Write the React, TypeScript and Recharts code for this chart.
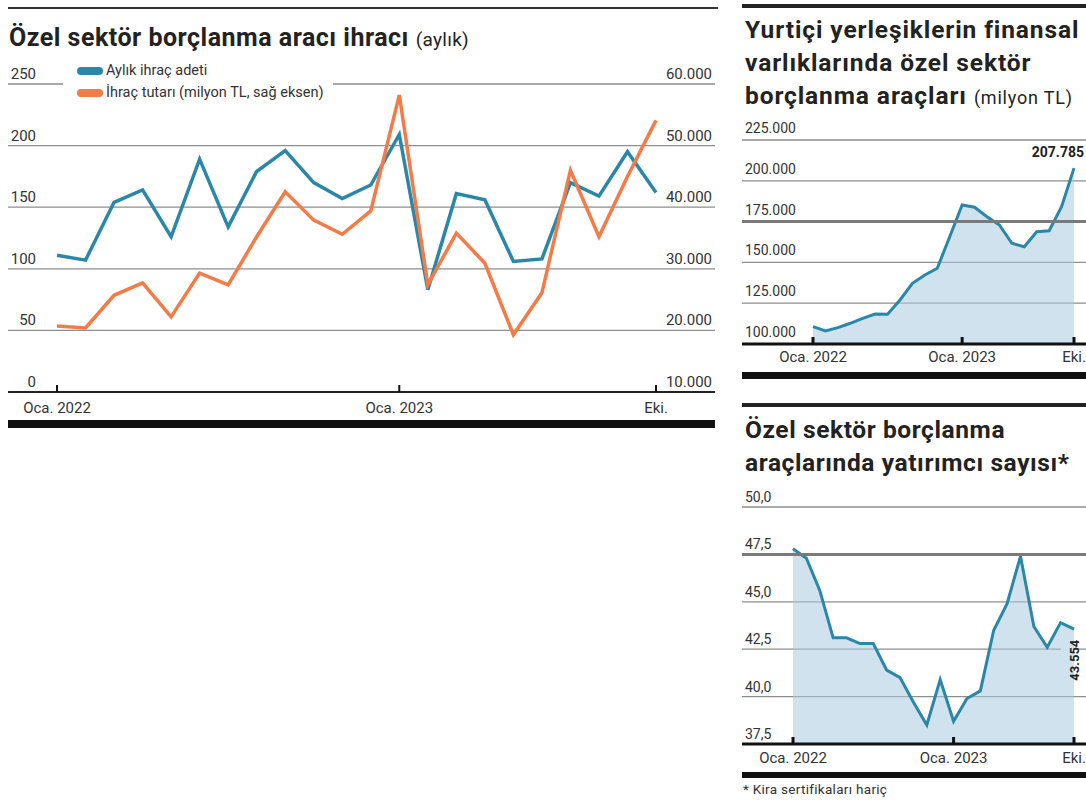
import { LineChart, Line, AreaChart, Area, XAxis, YAxis, CartesianGrid, ReferenceLine, LabelList } from 'recharts';

// Oca 2022 .. Eki 2023, monthly
const months = [
    'Oca 2022', 'Şub 2022', 'Mar 2022', 'Nis 2022', 'May 2022', 'Haz 2022', 'Tem 2022', 'Ağu 2022',
    'Eyl 2022', 'Eki 2022', 'Kas 2022', 'Ara 2022', 'Oca 2023', 'Şub 2023', 'Mar 2023', 'Nis 2023',
    'May 2023', 'Haz 2023', 'Tem 2023', 'Ağu 2023', 'Eyl 2023', 'Eki 2023',
];

const issueCount = [111, 107, 154, 164, 126, 189, 134, 179, 196, 170, 157, 168, 209, 83, 161, 156, 106, 108, 170, 159, 195, 162];
const issueAmount = [20700, 20400, 25700, 27700, 22200, 29300, 27400, 35200, 42500, 37900, 35600, 39400, 58200, 27400, 35800, 30900, 19300, 26100, 46000, 35200, 45000, 54100];
const holdings = [110600, 108000, 110000, 112700, 115700, 118400, 118200, 127000, 137200, 142300, 146400, 165700, 185200, 183800, 178000, 172900, 161700, 159600, 168800, 169400, 184100, 207785];
const investors = [47.8, 47.3, 45.6, 43.1, 43.1, 42.8, 42.8, 41.4, 41.0, 39.7, 38.5, 40.9, 38.7, 39.9, 40.3, 43.5, 44.9, 47.4, 43.7, 42.6, 43.9, 43.554];

const countTicks = [0, 50, 100, 150, 200, 250];
const amountTicks = [10000, 20000, 30000, 40000, 50000, 60000];
const holdingTicks = [100000, 125000, 150000, 175000, 200000, 225000];
const investorTicks = [37.5, 40, 42.5, 45, 47.5, 50];
const xTickMonths = ['Oca 2022', 'Oca 2023', 'Eki 2023'];
const xTickLabels = ['Oca. 2022', 'Oca. 2023', 'Eki.'];

const issueData = months.map((m, i) => ({ month: m, count: issueCount[i], amount: issueAmount[i] }));
const holdingData = months.map((m, i) => ({ month: m, value: holdings[i] }));
const investorData = months.map((m, i) => ({ month: m, value: investors[i] }));

const BLUE = '#2a87a7';
const ORANGE = '#f47b48';
const GRID = '#8e8e8e';
const FONT = 'Roboto, sans-serif';

const thousands = (v: number) => String(v).replace(/\B(?=(\d{3})+(?!\d))/g, '.');
const decimal = (v: number) => v.toFixed(1).replace('.', ',');

// labels sit just above their gridline, x fixed per chart
const yTick = (x0: number, anchor: 'start' | 'end', fmt: (v: number) => string, size: number, lift: number) => (props: any) => (
    <text x={x0} y={props.y - lift} textAnchor={anchor} fontSize={size} fill="#333" fontFamily={FONT}>
        {fmt(props.payload.value)}
    </text>
);

// only three labelled months, tick mark points up into the plot
const xTick = (len: number, width: number, dy: number, size: number) => (props: any) => {
    const i = xTickMonths.indexOf(props.payload.value);
    if (i < 0) return <g />;
    return (
        <g>
            <line x1={props.x} x2={props.x} y1={props.y - len} y2={props.y} stroke="#111" strokeWidth={width} />
            <text x={props.x} y={props.y + dy} textAnchor="middle" fontSize={size} fill="#333" fontFamily={FONT}>
                {xTickLabels[i]}
            </text>
        </g>
    );
};

const abs = (left: number, top: number, extra: any = {}) => ({ position: 'absolute' as const, left, top, ...extra });

const IssueChart = () => (
    <div style={abs(7, 60)}>
        <LineChart width={712} height={360} data={issueData} margin={{ top: 24, right: 3, left: 0, bottom: 0 }}>
            <CartesianGrid yAxisId="l" vertical={false} stroke={GRID} strokeWidth={1.3} />
            <XAxis
                dataKey="month"
                interval={0}
                tickSize={0}
                tickMargin={0}
                height={28}
                padding={{ left: 49, right: 59 }}
                axisLine={{ stroke: '#222', strokeWidth: 2 }}
                tickLine={false}
                tick={xTick(7, 2, 21, 15)}
            />
            <YAxis yAxisId="l" domain={[0, 250]} ticks={countTicks} interval={0} width={1} axisLine={false} tickLine={false} tick={yTick(29, 'end', String, 15, 5)} />
            <YAxis yAxisId="r" orientation="right" domain={[10000, 60000]} ticks={amountTicks} interval={0} width={1} axisLine={false} tickLine={false} tick={yTick(705, 'end', thousands, 15, 5)} />
            <Line yAxisId="l" dataKey="count" stroke={BLUE} strokeWidth={3.5} dot={false} isAnimationActive={false} />
            <Line yAxisId="r" dataKey="amount" stroke={ORANGE} strokeWidth={3.5} dot={false} isAnimationActive={false} />
        </LineChart>
    </div>
);

const HoldingLabel = (props: any) => {
    if (props.value !== holdings[holdings.length - 1]) return null;
    return (
        <text x={props.x + 10} y={props.y - 11} textAnchor="end" fontSize={14} fontWeight={700} fill="#222" fontFamily={FONT}>
            {thousands(props.value)}
        </text>
    );
};

const HoldingChart = () => (
    <div style={abs(741, 120)}>
        <AreaChart width={345} height={250} data={holdingData} margin={{ top: 20, right: 0, left: 0, bottom: 0 }}>
            <CartesianGrid vertical={false} stroke={GRID} strokeWidth={1.3} />
            <XAxis
                dataKey="month"
                interval={0}
                tickSize={0}
                tickMargin={0}
                height={26}
                padding={{ left: 71, right: 12 }}
                axisLine={{ stroke: '#111', strokeWidth: 3 }}
                tickLine={false}
                tick={xTick(7, 3, 18, 15)}
            />
            <YAxis domain={[100000, 225000]} ticks={holdingTicks} interval={0} width={1} axisLine={false} tickLine={false} tick={yTick(4, 'start', thousands, 14, 7)} />
            <ReferenceLine y={175000} stroke="#7a7a7a" strokeWidth={3} />
            <Area dataKey="value" stroke={BLUE} strokeWidth={3} fill="#a9cbe0" fillOpacity={0.55} isAnimationActive={false}>
                <LabelList dataKey="value" content={HoldingLabel} />
            </Area>
        </AreaChart>
    </div>
);

const InvestorLabel = (props: any) => {
    if (props.value !== investors[investors.length - 1]) return null;
    const cx = props.x;
    const cy = props.y + 31;
    return (
        <g>
            <rect x={cx - 13} y={cy - 22} width={13} height={44} fill="#d0e2ee" />
            <text transform={`translate(${cx},${cy}) rotate(-90)`} textAnchor="middle" dominantBaseline="central" fontSize={13} fontWeight={700} fill="#222" fontFamily={FONT}>
                {String(props.value)}
            </text>
        </g>
    );
};

const InvestorChart = () => (
    <div style={abs(741, 487)}>
        <AreaChart width={345} height={283} data={investorData} margin={{ top: 20, right: 0, left: 0, bottom: 0 }}>
            <CartesianGrid vertical={false} stroke={GRID} strokeWidth={1.3} />
            <XAxis
                dataKey="month"
                interval={0}
                tickSize={0}
                tickMargin={0}
                height={26}
                padding={{ left: 51, right: 12 }}
                axisLine={{ stroke: '#111', strokeWidth: 3 }}
                tickLine={false}
                tick={xTick(7, 3, 19, 15)}
            />
            <YAxis domain={[37.5, 50]} ticks={investorTicks} interval={0} width={1} axisLine={false} tickLine={false} tick={yTick(4, 'start', decimal, 14, 5)} />
            <ReferenceLine y={47.5} stroke="#7a7a7a" strokeWidth={3} />
            <Area dataKey="value" stroke={BLUE} strokeWidth={3} fill="#a9cbe0" fillOpacity={0.55} isAnimationActive={false}>
                <LabelList dataKey="value" content={InvestorLabel} />
            </Area>
        </AreaChart>
    </div>
);

const Swatch = ({ color }: { color: string }) => (
    <span style={{ display: 'inline-block', width: 26, height: 8, borderRadius: 4, background: color, marginRight: 3 }} />
);

const App = () => {
    return (
        <div style={{ position: 'absolute', left: 0, top: 0, width: 1086, height: 801, background: '#fff', fontFamily: FONT, color: '#222', overflow: 'hidden' }}>
            {/* left panel */}
            <div style={abs(8, 7, { width: 710, height: 2, background: '#333' })} />
            <div style={abs(9, 23, { fontSize: 25, fontWeight: 700, lineHeight: '30px', letterSpacing: 0.5, whiteSpace: 'nowrap' })}>
                Özel sektör borçlanma aracı ihracı <span style={{ fontSize: 19, fontWeight: 400, letterSpacing: 0.3 }}>(aylık)</span>
            </div>
            <IssueChart />
            <div style={abs(63, 60, { width: 270, height: 44, background: '#fff', fontSize: 14.5, lineHeight: '22px', color: '#333', paddingLeft: 14, boxSizing: 'border-box', whiteSpace: 'nowrap' })}>
                <div style={{ display: 'flex', alignItems: 'center' }}><Swatch color={BLUE} />Aylık ihraç adeti</div>
                <div style={{ display: 'flex', alignItems: 'center' }}><Swatch color={ORANGE} />İhraç tutarı (milyon TL, sağ eksen)</div>
            </div>
            <div style={abs(8, 420, { width: 707, height: 8, background: '#111' })} />

            {/* top right panel */}
            <div style={abs(742, 4, { width: 344, height: 4, background: '#222' })} />
            <div style={abs(745, 13, { fontSize: 24.5, fontWeight: 700, lineHeight: '33px', letterSpacing: 0.9, whiteSpace: 'nowrap' })}>
                Yurtiçi yerleşiklerin finansal<br />
                varlıklarında özel sektör<br />
                borçlanma araçları <span style={{ fontSize: 18, fontWeight: 400, letterSpacing: 0.8 }}>(milyon TL)</span>
            </div>
            <HoldingChart />
            <div style={abs(742, 372, { width: 344, height: 7, background: '#111' })} />

            {/* bottom right panel */}
            <div style={abs(742, 403, { width: 344, height: 4, background: '#222' })} />
            <div style={abs(745, 413, { fontSize: 24.5, fontWeight: 700, lineHeight: '33px', letterSpacing: 0.6, whiteSpace: 'nowrap' })}>
                Özel sektör borçlanma<br />
                araçlarında yatırımcı sayısı*
            </div>
            <InvestorChart />
            <div style={abs(742, 772, { width: 344, height: 6, background: '#111' })} />
            <div style={abs(743, 781, { fontSize: 13.5, letterSpacing: 0.3, color: '#333', whiteSpace: 'nowrap' })}>* Kira sertifikaları hariç</div>
        </div>
    );
};

export default App;
